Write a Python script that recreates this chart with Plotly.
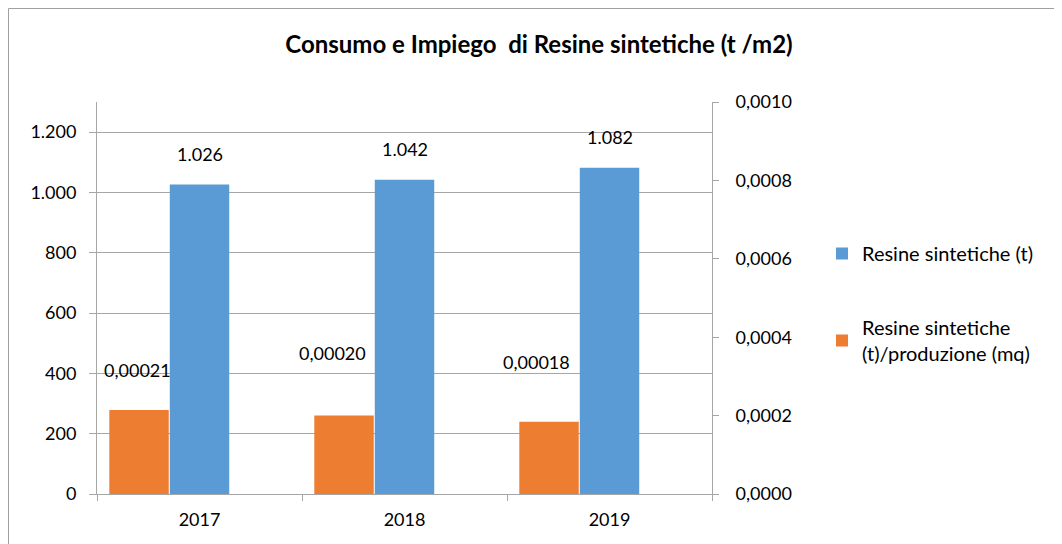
import plotly.graph_objects as go

years = ["2017", "2018", "2019"]
resine_t = [1026, 1042, 1082]
resine_per_mq = [0.000214, 0.000200, 0.000184]
resine_per_mq_labels = ["0,00021", "0,00020", "0,00018"]
resine_t_labels = ["1.026", "1.042", "1.082"]

name_t = "Resine sintetiche (t)"
name_mq = "Resine sintetiche<br>(t)/produzione (mq)"

BLUE = "#5B9BD5"
ORANGE = "#ED7D31"
GRID = "#a6a6a6"
FONT = "Lato"

# page has an 8px body margin, so figure coords = page coords - 8
W, H = 1062, 544
L, T = 89, 94
pw, ph = 615, 392
R, B = W - L - pw, H - T - ph

fig = go.Figure()
fig.add_trace(go.Bar(
    x=years, y=resine_t, name=name_t, marker_color=BLUE,
    marker_line_width=0, offset=-0.145, width=0.29,
    legendgroup="a", yaxis="y",
))
fig.add_trace(go.Bar(
    x=years, y=resine_per_mq, name=name_mq, marker_color=ORANGE,
    marker_line_width=0, offset=-0.44, width=0.29,
    legendgroup="b", yaxis="y2",
))

annotations = []
for i, (v, lab) in enumerate(zip(resine_t, resine_t_labels)):
    annotations.append(dict(x=i, y=v, xref="x", yref="y", text=lab,
                            showarrow=False, yshift=31,
                            font=dict(family=FONT, size=18, color="#000")))
orange_shift_y = [40, 63, 60]
orange_shift_x = [-2, -12, -13]
for i, (v, lab) in enumerate(zip(resine_per_mq, resine_per_mq_labels)):
    annotations.append(dict(x=i - 0.295, y=v, xref="x", yref="y2", text=lab,
                            showarrow=False, yshift=orange_shift_y[i],
                            xshift=orange_shift_x[i],
                            font=dict(family=FONT, size=18, color="#000")))

fig.update_layout(
    width=W, height=H,
    margin=dict(l=L, r=R, t=T, b=B, autoexpand=False),
    paper_bgcolor="white", plot_bgcolor="white",
    separators=",.",
    barmode="overlay",
    font=dict(family=FONT, size=18, color="#000"),
    title=dict(text="<b>Consumo e Impiego  di Resine sintetiche (t /m2)</b>",
               x=531 / W, xanchor="center", y=1 - 37 / H, yanchor="middle",
               font=dict(family=FONT, size=24, color="#000")),
    xaxis=dict(type="category", range=[-0.5, 2.5], showgrid=False,
               showline=True, linecolor=GRID, linewidth=1,
               ticks="outside", tickson="boundaries", ticklen=6, tickcolor=GRID,
               tickfont=dict(size=18), ticklabelstandoff=9, automargin=False),
    yaxis=dict(range=[0, 1300], tickvals=[0, 200, 400, 600, 800, 1000, 1200],
               tickformat=",.0f", showgrid=True, gridcolor=GRID, gridwidth=1,
               showline=True, linecolor=GRID, linewidth=1,
               ticks="outside", ticklen=7, tickcolor=GRID, zeroline=False,
               tickfont=dict(size=18), ticklabelstandoff=9, automargin=False),
    yaxis2=dict(range=[0, 0.001], dtick=0.0002, tickformat=".4f",
                overlaying="y", side="right", showgrid=False,
                showline=True, linecolor=GRID, linewidth=1,
                ticks="outside", ticklen=6, tickcolor=GRID, zeroline=False,
                tickfont=dict(size=18), ticklabelstandoff=13, automargin=False),
    legend=dict(x=(814 - L) / pw, y=1 - (226 - T) / ph, xanchor="left", yanchor="top",
                traceorder="grouped", tracegroupgap=45,
                font=dict(family=FONT, size=20, color="#000"),
                bgcolor="rgba(0,0,0,0)"),
    annotations=annotations,
    shapes=[dict(type="rect", xref="paper", yref="paper",
                 x0=(0.5 - L) / pw, x1=(W + 20 - L) / pw,
                 y0=-(B + 20) / ph, y1=1 + (T - 0.5) / ph,
                 line=dict(color="#a0a0a0", width=1), fillcolor="rgba(0,0,0,0)",
                 layer="below")],
)

fig.write_html("out.html")
